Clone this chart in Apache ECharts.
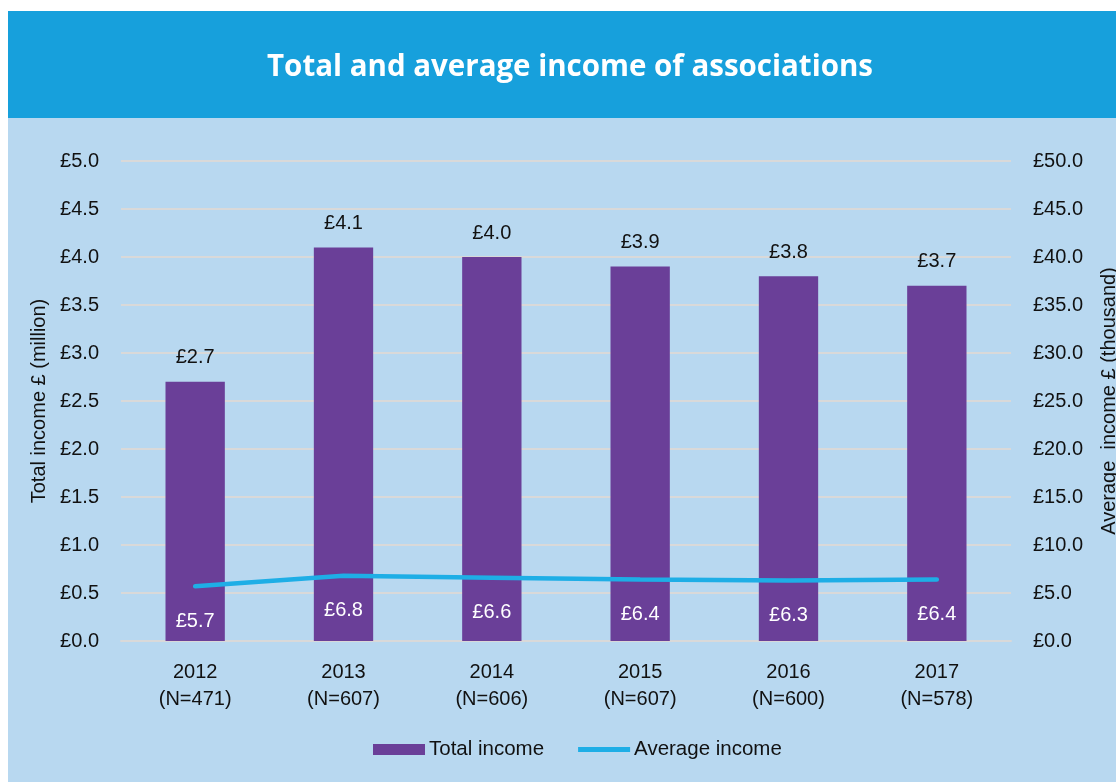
<!DOCTYPE html>
<html>
<head>
<meta charset="utf-8">
<title>Total and average income of associations</title>
<script src="https://cdn.jsdelivr.net/npm/echarts@6/dist/echarts.min.js"></script>
<style>
    html, body { margin: 0; padding: 0; background: #ffffff; }
    #chart { position: absolute; left: 8px; top: 11px; width: 1108px; height: 771px; background: #b8d8f0; }
</style>
</head>
<body>
<div id="chart"></div>
<script>
    // 年份 + 样本数
    var years = ['2012', '2013', '2014', '2015', '2016', '2017'];
    var sampleSizes = [471, 607, 606, 607, 600, 578];
    // 总收入（百万英镑）
    var totalIncome = [2.7, 4.1, 4.0, 3.9, 3.8, 3.7];
    // 平均收入（千英镑）
    var averageIncome = [5.7, 6.8, 6.6, 6.4, 6.3, 6.4];

    var categories = years.map(function (y, i) {
        return y + '\n(N=' + sampleSizes[i] + ')';
    });

    var fontFamily = '"Liberation Sans", Arial, sans-serif';
    var poundFmt = function (v) { return '£' + v.toFixed(1); };

    var myChart = echarts.init(document.getElementById('chart'));
    var option = {
        backgroundColor: '#b8d8f0',
        textStyle: { fontFamily: fontFamily },
        graphic: [
            {
                type: 'rect',
                shape: { x: 0, y: 0, width: 1108, height: 107 },
                style: { fill: '#17a0dc' },
                z: -1
            }
        ],
        title: {
            text: 'Total and average income of associations',
            left: 557,
            top: 37,
            textAlign: 'center',
            textStyle: {
                color: '#ffffff',
                fontFamily: '"Open Sans", "Noto Sans", sans-serif',
                fontWeight: 'bold',
                fontSize: 29.5
            }
        },
        legend: {
            bottom: 17,
            left: 360,
            itemWidth: 52,
            itemHeight: 11,
            itemGap: 34,
            textStyle: { fontSize: 20.5, color: '#111111', padding: [0, 0, 0, -1] },
            data: [
                { name: 'Total income', icon: 'rect' },
                { name: 'Average income', icon: 'path://M0,0 L54,0 L54,5 L0,5 Z' } // 线图例只画横条
            ]
        },
        grid: {
            left: 113,
            right: 105,
            top: 150,
            bottom: 141,
            outerBoundsMode: 'none'
        },
        xAxis: {
            type: 'category',
            data: categories,
            axisLine: { show: true, lineStyle: { color: '#d9d9d9', width: 2 } },
            axisTick: { show: false },
            axisLabel: {
                color: '#111111',
                fontSize: 20,
                lineHeight: 27,
                margin: 18
            }
        },
        yAxis: [
            {
                type: 'value',
                min: 0,
                max: 5,
                interval: 0.5,
                name: 'Total income £ (million)',
                nameLocation: 'middle',
                nameGap: 72,
                nameTextStyle: { fontSize: 20, color: '#111111' },
                axisLine: { show: false },
                axisTick: { show: false },
                splitLine: { lineStyle: { color: '#d9d9d9', width: 2 } },
                axisLabel: { color: '#111111', fontSize: 20, margin: 22, formatter: poundFmt }
            },
            {
                type: 'value',
                min: 0,
                max: 50,
                interval: 5,
                name: 'Average  income £ (thousand)',
                nameLocation: 'middle',
                nameGap: 88,
                nameRotate: 90,
                nameTextStyle: { fontSize: 20, color: '#111111' },
                axisLine: { show: false },
                axisTick: { show: false },
                splitLine: { show: false },
                axisLabel: { color: '#111111', fontSize: 20, margin: 22, formatter: poundFmt }
            }
        ],
        series: [
            {
                name: 'Total income',
                type: 'bar',
                yAxisIndex: 0,
                barWidth: '40%',
                itemStyle: { color: '#6a3f98' },
                label: {
                    show: true,
                    position: 'top',
                    distance: 14,
                    color: '#111111',
                    fontSize: 20,
                    formatter: function (p) { return poundFmt(p.value); }
                },
                data: totalIncome
            },
            {
                name: 'Average income',
                type: 'line',
                yAxisIndex: 1,
                symbol: 'circle',
                symbolSize: 0.5,   // 点几乎不可见，但保留标签
                showSymbol: true,
                lineStyle: { color: '#1eaee6', width: 4.5, cap: 'round' },
                itemStyle: { color: '#1eaee6' },
                label: {
                    show: true,
                    position: 'bottom',
                    distance: 25,
                    color: '#ffffff',
                    fontSize: 20,
                    formatter: function (p) { return poundFmt(p.value); }
                },
                z: 3,
                data: averageIncome
            }
        ]
    };
    myChart.setOption(option);
    window.addEventListener('resize', function () {
        myChart.resize();
    });
</script>
</body>
</html>
